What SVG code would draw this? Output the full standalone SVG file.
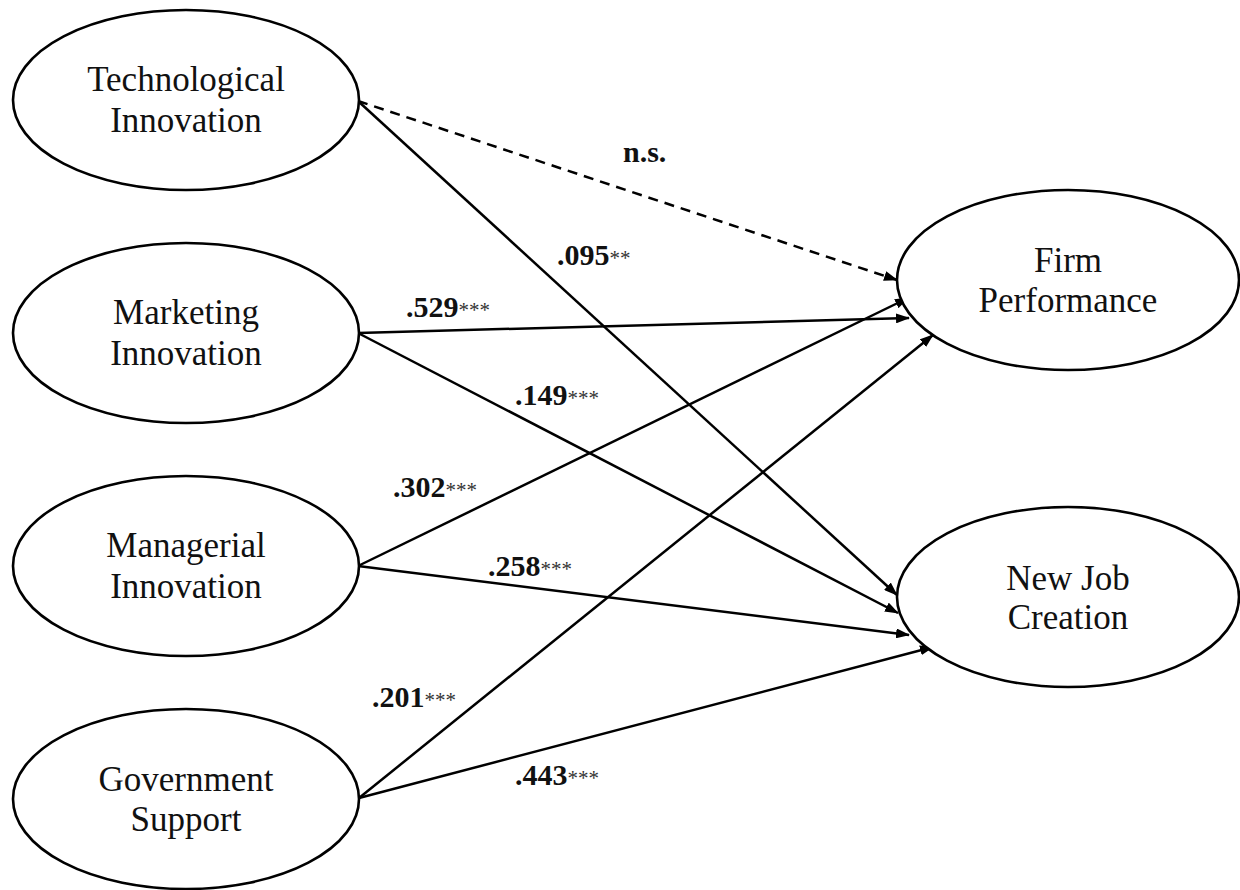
<svg xmlns="http://www.w3.org/2000/svg" width="1240" height="890" viewBox="0 0 1240 890">
<defs>
<style>
.node ellipse{fill:#fff;stroke:#000;stroke-width:2.6}
.node text{font-family:"Liberation Serif","Times New Roman",serif;font-size:35px;fill:#111;text-anchor:middle}
.edge{stroke:#000;stroke-width:2.5;fill:none;marker-end:url(#arr)}
.dash{stroke-dasharray:10 7}
.lbl{font-family:"Liberation Serif","Times New Roman",serif;font-size:30px;font-weight:bold;fill:#111}
.st{font-size:21px;font-weight:normal;fill:#333}
</style>
<marker id="arr" markerUnits="userSpaceOnUse" markerWidth="14" markerHeight="10" refX="13" refY="5" orient="auto">
<path d="M0,0 L14,5 L0,10 z" fill="#000"/>
</marker>
</defs>
<rect width="1240" height="890" fill="#fff"/>
<g id="connectors">
<line class="edge dash" x1="358" y1="101" x2="897" y2="280"/>
<line class="edge" x1="358" y1="101" x2="897" y2="595"/>
<line class="edge" x1="358" y1="333" x2="909" y2="318"/>
<line class="edge" x1="358" y1="333" x2="898" y2="613"/>
<line class="edge" x1="358" y1="566" x2="908" y2="298"/>
<line class="edge" x1="358" y1="566" x2="909" y2="635"/>
<line class="edge" x1="359" y1="798" x2="933" y2="335"/>
<line class="edge" x1="359" y1="798" x2="933" y2="647"/>
</g>
<g id="labels">
<text class="lbl" x="623" y="162">n.s.</text>
<text class="lbl" x="557" y="265">.095<tspan class="st">**</tspan></text>
<text class="lbl" x="406" y="317">.529<tspan class="st">***</tspan></text>
<text class="lbl" x="515" y="405">.149<tspan class="st">***</tspan></text>
<text class="lbl" x="393" y="497">.302<tspan class="st">***</tspan></text>
<text class="lbl" x="488" y="576">.258<tspan class="st">***</tspan></text>
<text class="lbl" x="372" y="707">.201<tspan class="st">***</tspan></text>
<text class="lbl" x="515" y="785">.443<tspan class="st">***</tspan></text>
</g>
<g id="tech" class="node">
<ellipse cx="186" cy="100" rx="173" ry="90"/>
<text x="186" y="91">Technological</text>
<text x="186" y="132">Innovation</text>
</g>
<g id="marketing" class="node">
<ellipse cx="186" cy="333" rx="173" ry="90"/>
<text x="186" y="324">Marketing</text>
<text x="186" y="365">Innovation</text>
</g>
<g id="managerial" class="node">
<ellipse cx="186" cy="566" rx="173" ry="90"/>
<text x="186" y="557">Managerial</text>
<text x="186" y="598">Innovation</text>
</g>
<g id="government" class="node">
<ellipse cx="186" cy="799" rx="173" ry="90"/>
<text x="186" y="791">Government</text>
<text x="186" y="831">Support</text>
</g>
<g id="firm" class="node">
<ellipse cx="1068" cy="280" rx="171" ry="90"/>
<text x="1068" y="272">Firm</text>
<text x="1068" y="312">Performance</text>
</g>
<g id="newjob" class="node">
<ellipse cx="1068" cy="597" rx="171" ry="90"/>
<text x="1068" y="590">New Job</text>
<text x="1068" y="629">Creation</text>
</g>
</svg>
